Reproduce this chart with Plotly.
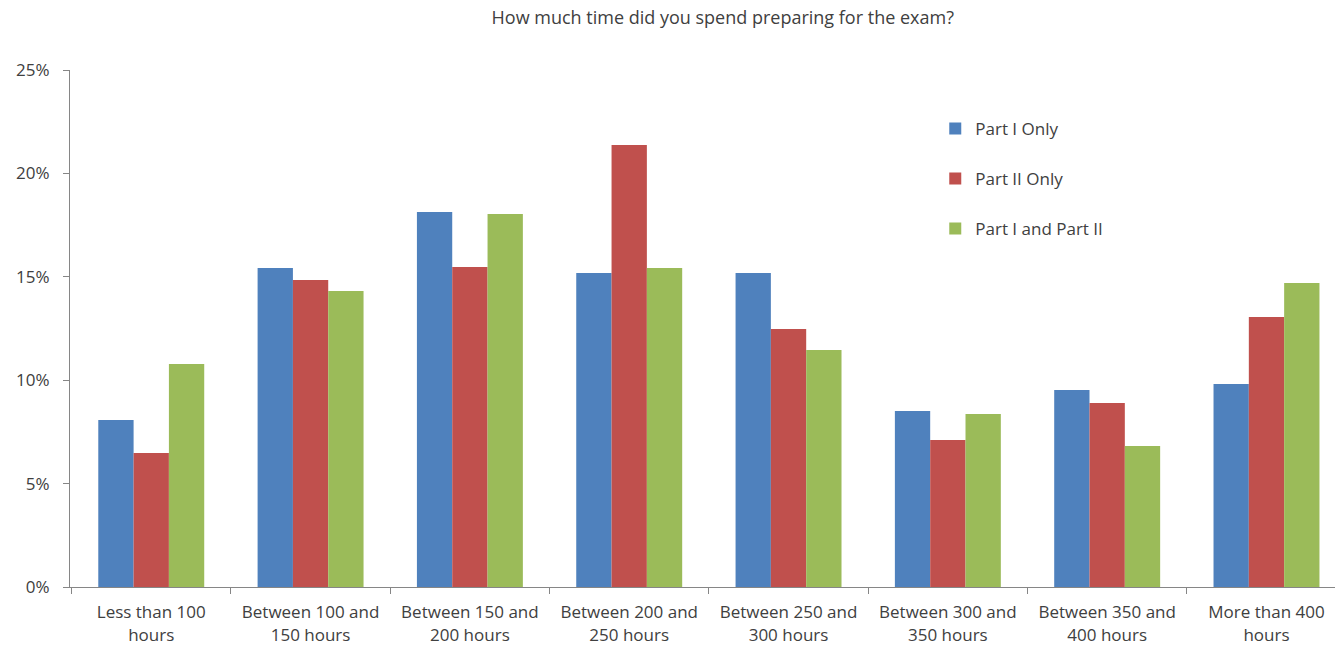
import plotly.graph_objects as go

categories = ["Less than 100<br>hours", "Between 100 and<br>150 hours", "Between 150 and<br>200 hours",
              "Between 200 and<br>250 hours", "Between 250 and<br>300 hours", "Between 300 and<br>350 hours",
              "Between 350 and<br>400 hours", "More than 400<br>hours"]
part1_only = [0.0807, 0.1543, 0.1813, 0.1518, 0.1518, 0.0851, 0.0953, 0.0982]
part2_only = [0.0648, 0.1485, 0.1547, 0.2137, 0.1248, 0.0711, 0.0890, 0.1306]
part1_and_2 = [0.1078, 0.1431, 0.1804, 0.1543, 0.1146, 0.0837, 0.0682, 0.1470]

series = [("Part I Only", part1_only, "#4F81BD"),
          ("Part II Only", part2_only, "#C0504D"),
          ("Part I and Part II", part1_and_2, "#9BBB59")]

fig = go.Figure()
for i, (name, vals, color) in enumerate(series):
    fig.add_trace(go.Bar(x=categories, y=vals, name=name, marker_color=color,
                         marker_line_width=0, legendgroup=f"g{i}"))

font = "'Open Sans', sans-serif"
fig.update_layout(
    width=1335, height=648,
    margin=dict(l=70, r=0, t=70, b=61),
    paper_bgcolor="white", plot_bgcolor="white",
    barmode="group", bargap=0.335, bargroupgap=0,
    font=dict(family=font, size=17, color="#404040"),
    title=dict(text="How much time did you spend preparing for the exam?", x=0.516, xanchor="center",
               xref="paper", y=0.972, yanchor="middle", font=dict(size=18, color="#404040")),
    legend=dict(x=0.684, y=0.921, xanchor="left", yanchor="top", tracegroupgap=25,
                font=dict(size=17, color="#404040"), itemwidth=30, bgcolor="rgba(0,0,0,0)"),
    showlegend=True,
)
fig.update_xaxes(showline=True, linecolor="#868686", linewidth=1, ticks="outside", tickson="boundaries",
                 ticklen=6, tickcolor="#868686", showgrid=False, tickfont=dict(size=17),
                 automargin=False, ticklabelstandoff=10, range=[-0.51, 7.43])
fig.update_yaxes(range=[0, 0.25], dtick=0.05, tickformat=".0%", showline=True, linecolor="#868686",
                 linewidth=1, ticks="outside", ticklen=6, tickcolor="#868686", showgrid=False,
                 zeroline=False, tickfont=dict(size=17), automargin=False, ticklabelstandoff=10)

fig.write_html("out.html", config={"displayModeBar": False},
               post_script="document.body.style.margin='0';")
